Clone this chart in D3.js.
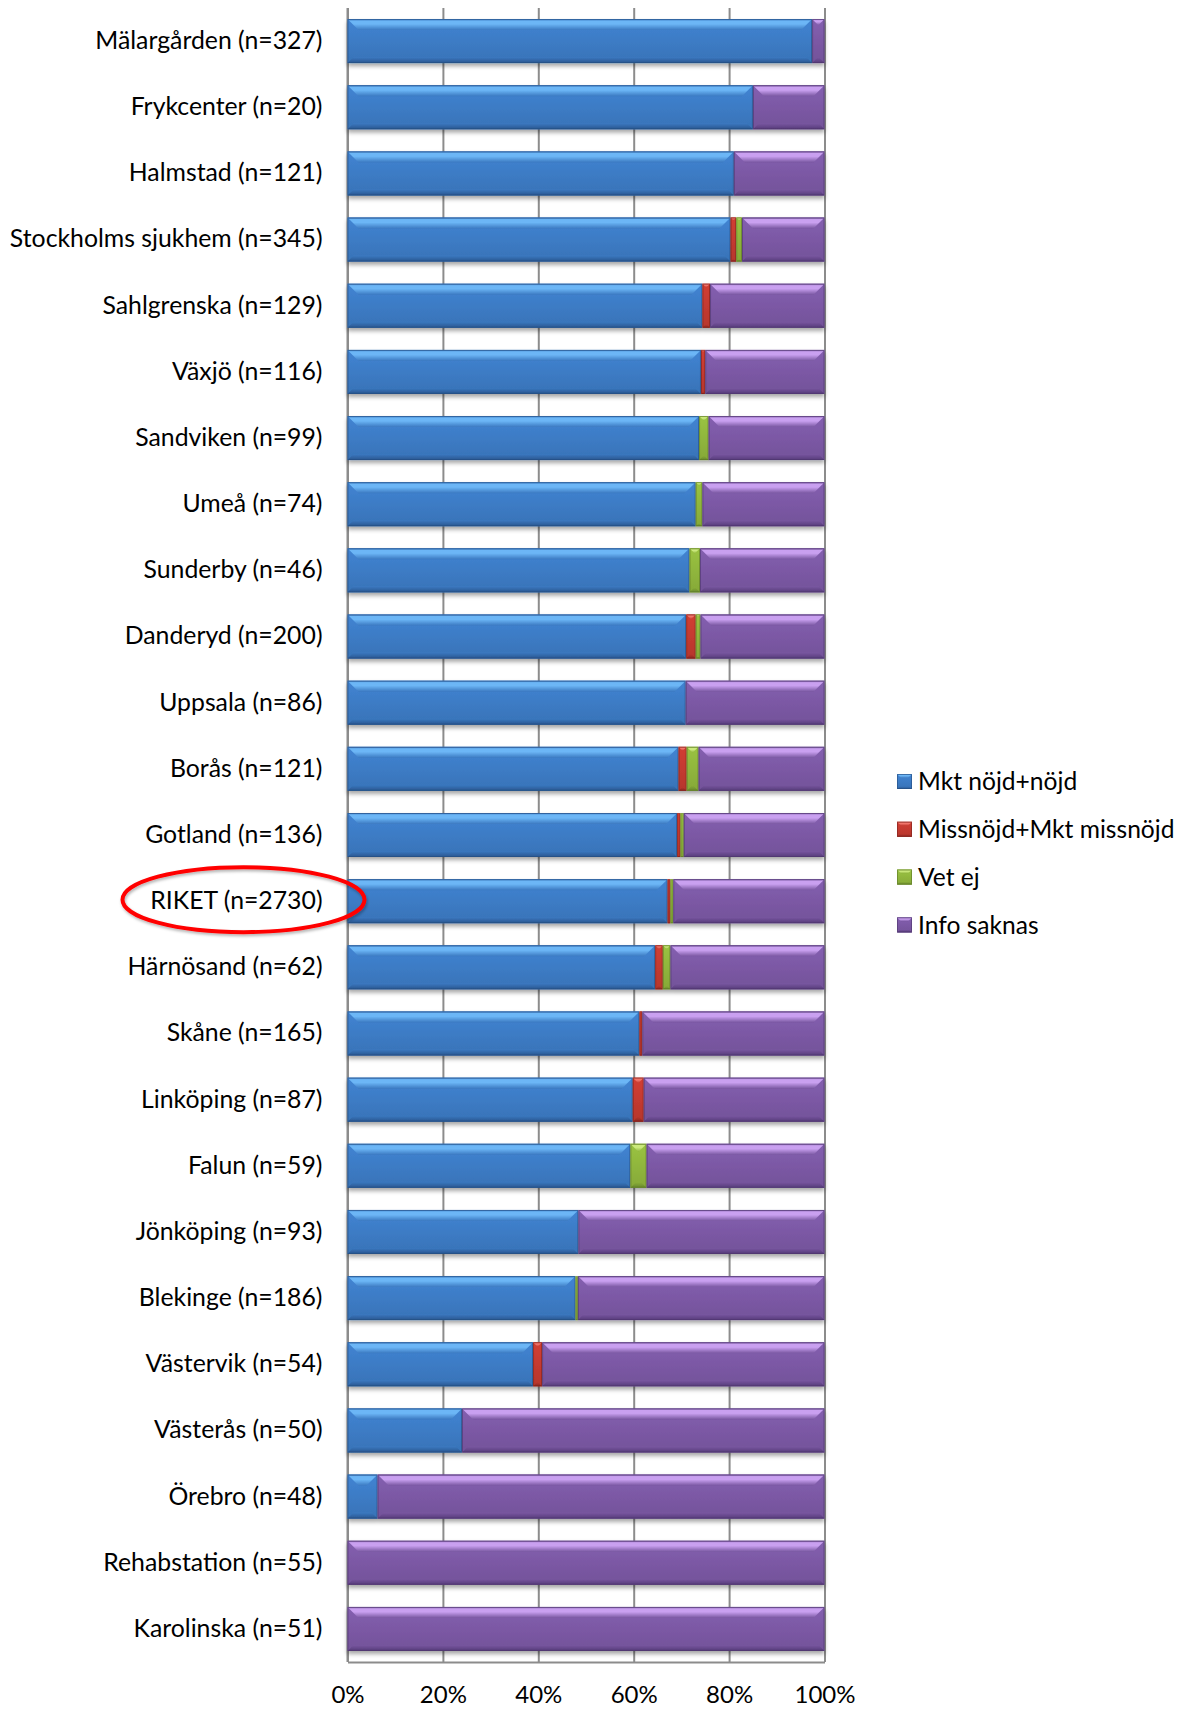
<!DOCTYPE html>
<html><head><meta charset="utf-8">
<script src="https://cdn.jsdelivr.net/npm/d3@7"></script>
<style>
html,body{margin:0;padding:0;background:#fff;}
svg{display:block;font-family:Lato,"Open Sans",sans-serif;}
</style></head>
<body>
<svg id="chart" width="1184" height="1709"></svg>
<script>
const categories = ["Mälargården (n=327)","Frykcenter (n=20)","Halmstad (n=121)","Stockholms sjukhem (n=345)","Sahlgrenska (n=129)","Växjö (n=116)","Sandviken (n=99)","Umeå (n=74)","Sunderby (n=46)","Danderyd (n=200)","Uppsala (n=86)","Borås (n=121)","Gotland (n=136)","RIKET (n=2730)","Härnösand (n=62)","Skåne (n=165)","Linköping (n=87)","Falun (n=59)","Jönköping (n=93)","Blekinge (n=186)","Västervik (n=54)","Västerås (n=50)","Örebro (n=48)","Rehabstation (n=55)","Karolinska (n=51)"];
const seriesNames = ["Mkt nöjd+nöjd","Missnöjd+Mkt missnöjd","Vet ej","Info saknas"];
const nojd =      [97.4,85.0,81.0,80.3,74.4,74.1,73.7,73.0,71.7,71.0,70.9,69.4,69.1,67.1,64.5,61.2,59.8,59.3,48.4,47.8,38.9,24.0,6.3,0,0];
const missnojd =  [0,0,0,1.2,1.6,0.9,0,0,0,2.0,0,1.7,0.7,0.6,1.6,0.6,2.3,0,0,0,1.9,0,0,0,0];
const vetEj =     [0,0,0,1.2,0,0,2.0,1.4,2.2,1.0,0,2.5,0.7,0.6,1.6,0,0,3.4,0,0.5,0,0,0,0,0];
const infoSaknas= [2.6,15.0,19.0,17.3,24.0,25.0,24.3,25.6,26.1,26.0,29.1,26.4,29.5,31.7,32.3,38.2,37.9,37.3,51.6,51.7,59.2,76.0,93.7,100,100];
const tickValues = [0,20,40,60,80,100];
const highlighted = "RIKET (n=2730)";

const palette = [
  {light:"#6cb6f6", mid:"#3b79c1", dark:"#29568f"},
  {light:"#f2756b", mid:"#c0392f", dark:"#8b2620"},
  {light:"#cbe97c", mid:"#8db23b", dark:"#66862a"},
  {light:"#c9a0f0", mid:"#7957a1", dark:"#563b79"}
];

const svg = d3.select("#chart");
const pL = 347.5, pR = 824.5, pT = 8, pB = 1662;
const x = d3.scaleLinear().domain([0,100]).range([pL,pR]);
const y = d3.scaleBand().domain(categories).range([pT,pB]).paddingInner(0.335).paddingOuter(0.1675);

const defs = svg.append("defs");
const f = defs.append("filter").attr("id","shadow").attr("x","-5%").attr("y","-20%").attr("width","110%").attr("height","150%");
f.append("feDropShadow").attr("dx",0).attr("dy",3).attr("stdDeviation",2.2).attr("flood-color","#000").attr("flood-opacity",0.35);
const f2 = defs.append("filter").attr("id","eshadow").attr("x","-10%").attr("y","-20%").attr("width","120%").attr("height","150%");
f2.append("feDropShadow").attr("dx",1).attr("dy",2).attr("stdDeviation",1.5).attr("flood-color","#000").attr("flood-opacity",0.3);

palette.forEach((p,i)=>{
  const gt = defs.append("linearGradient").attr("id","top"+i).attr("x1",0).attr("y1",0).attr("x2",0).attr("y2",1);
  gt.append("stop").attr("offset","0%").attr("stop-color",p.mid);
  gt.append("stop").attr("offset","18%").attr("stop-color",p.light);
  gt.append("stop").attr("offset","45%").attr("stop-color",p.light);
  gt.append("stop").attr("offset","100%").attr("stop-color",p.mid);
  const gb = defs.append("linearGradient").attr("id","bot"+i).attr("x1",0).attr("y1",0).attr("x2",0).attr("y2",1);
  gb.append("stop").attr("offset","0%").attr("stop-color",p.mid);
  gb.append("stop").attr("offset","100%").attr("stop-color",p.dark);
  const gm = defs.append("linearGradient").attr("id","mid"+i).attr("x1",0).attr("y1",0).attr("x2",0).attr("y2",1);
  gm.append("stop").attr("offset","0%").attr("stop-color",d3.color(p.mid).brighter(0.25));
  gm.append("stop").attr("offset","100%").attr("stop-color",d3.color(p.mid).darker(0.15));
});

// gridlines
const grid = svg.append("g").attr("transform",`translate(0,${pB})`)
  .call(d3.axisBottom(x).tickValues(tickValues).tickSize(-(pB-pT)).tickFormat("").tickSizeOuter(0));
grid.select(".domain").attr("stroke","#8c8c8c").attr("stroke-width",2);
grid.selectAll(".tick line").attr("stroke","#8c8c8c").attr("stroke-width",2);

// left axis line
svg.append("line").attr("x1",pL).attr("x2",pL).attr("y1",pT).attr("y2",pB).attr("stroke","#8c8c8c").attr("stroke-width",2);

// data table
const rows = categories.map((c,i)=>({cat:c, s0:nojd[i], s1:missnojd[i], s2:vetEj[i], s3:infoSaknas[i]}));
const stack = d3.stack().keys(["s0","s1","s2","s3"])(rows);

const barsG = svg.append("g").attr("filter","url(#shadow)");
function bevel(g, x0, x1, y0, h, i, bTop, bBot){
  const w = x1 - x0;
  if (w <= 0.05) return;
  const bt = Math.min(bTop, w/2), bb = Math.min(bBot, w/2);
  g.append("rect").attr("x",x0).attr("y",y0).attr("width",w).attr("height",h).attr("fill",`url(#mid${i})`);
  g.append("path").attr("d",`M${x0},${y0}L${x1},${y0}L${x1-bt},${y0+bt}L${x0+bt},${y0+bt}Z`).attr("fill",`url(#top${i})`);
  g.append("path").attr("d",`M${x0},${y0+h}L${x1},${y0+h}L${x1-bb},${y0+h-bb}L${x0+bb},${y0+h-bb}Z`).attr("fill",`url(#bot${i})`);
  g.append("rect").attr("x",x0+0.5).attr("y",y0+0.5).attr("width",Math.max(0,w-1)).attr("height",h-1)
    .attr("fill","none").attr("stroke",d3.color(palette[i].dark).darker(0.3)).attr("stroke-opacity",0.6).attr("stroke-width",1);
}
stack.forEach((layer,i)=>{
  layer.forEach(d=>{
    const g = barsG.append("g");
    bevel(g, x(d[0]), x(d[1]), y(d.data.cat), y.bandwidth(), i, 11, 6);
  });
});

// category labels
const yAxis = svg.append("g").attr("transform",`translate(${pL},0)`)
  .call(d3.axisLeft(y).tickSize(0).tickPadding(25));
yAxis.select(".domain").remove();
yAxis.selectAll("text").attr("font-family","Lato, sans-serif").attr("font-size",24.8).attr("fill","#000");

// x tick labels
const xAxis = svg.append("g").attr("transform",`translate(0,${pB})`)
  .call(d3.axisBottom(x).tickValues(tickValues).tickSize(0).tickPadding(24).tickFormat(d=>d+"%"));
xAxis.select(".domain").remove();
xAxis.selectAll("text").attr("font-family","Lato, sans-serif").attr("font-size",24).attr("fill","#000");

// legend
const legend = svg.append("g");
seriesNames.forEach((name,i)=>{
  const cy = 781.5 + i*47.8;
  const g = legend.append("g");
  bevel(g, 897, 912, cy-7.5, 15, i, 4, 3);
  legend.append("text").attr("x",918).attr("y",cy).attr("dy","0.35em")
    .attr("font-family","Lato, sans-serif").attr("font-size",24.6).attr("fill","#000").text(name);
});

// highlight ellipse
const hy = y(highlighted) + y.bandwidth()/2;
svg.append("ellipse").attr("cx",243.5).attr("cy",hy-1.5).attr("rx",121).attr("ry",32.5)
  .attr("fill","none").attr("stroke","#ff0000").attr("stroke-width",4).attr("filter","url(#eshadow)");
</script>
</body></html>
